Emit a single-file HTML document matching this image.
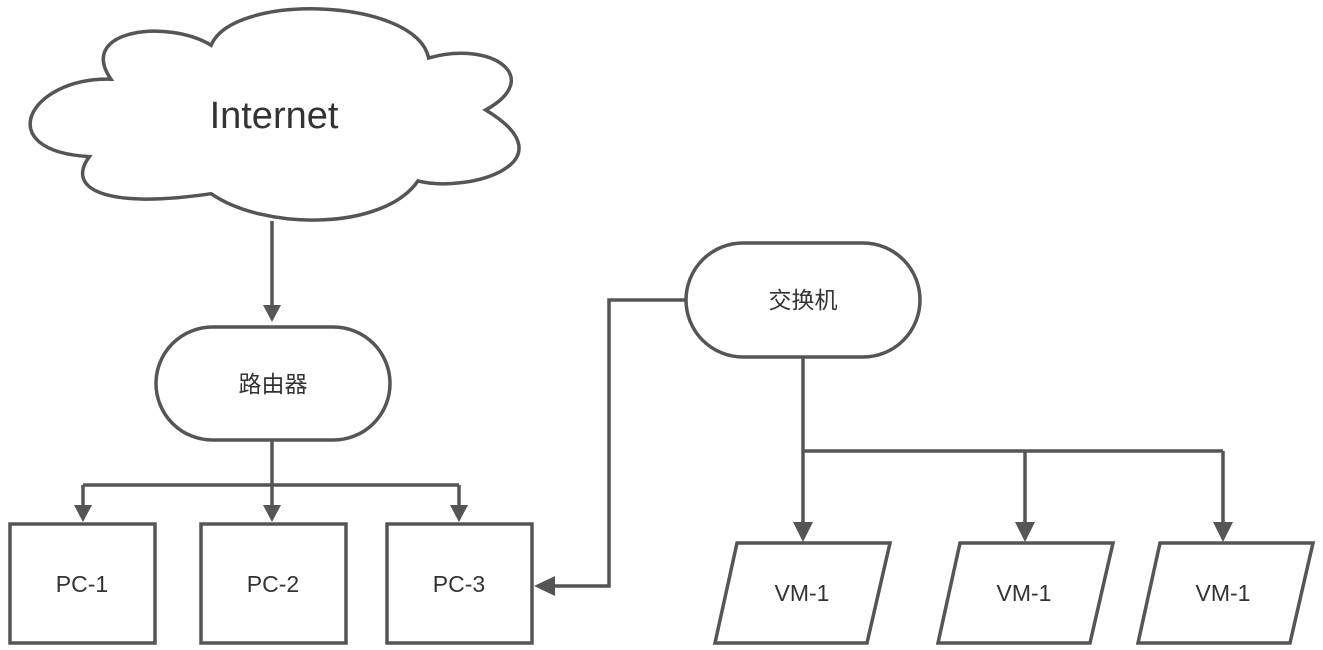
<!DOCTYPE html>
<html><head><meta charset="utf-8"><style>
html,body{margin:0;padding:0;background:#fff;}
svg{display:block;}
text{font-family:"Liberation Sans","Noto Sans CJK SC",sans-serif;fill:#333;text-anchor:middle;dominant-baseline:central;}
</style></head><body>
<svg width="1323" height="650" viewBox="0 0 1323 650" xmlns="http://www.w3.org/2000/svg">
<g fill="none" stroke="#555" stroke-width="3.5">
<path fill="#fff" vector-effect="non-scaling-stroke" transform="translate(28,5) scale(1.077,1.06) translate(-40,-12)" d="M117,82 C40,80 5,150 97,155 C75,185 110,205 210,190 C260,225 370,225 402,178 C450,190 545,160 465,111 C520,80 470,45 412,62 C400,5 230,0 210,50 C170,25 85,35 117,82 Z"/>
<rect x="156" y="327" width="234" height="113" rx="56.5" fill="#fff"/>
<rect x="686" y="243" width="234" height="114" rx="57" fill="#fff"/>
<rect x="10" y="524" width="145" height="119" fill="#fff"/>
<rect x="201" y="524" width="145" height="119" fill="#fff"/>
<rect x="387" y="524" width="145" height="119" fill="#fff"/>
<polygon points="737,543 890,543 867,643 715,643" fill="#fff"/>
<polygon points="960,543 1113,543 1090,643 938,643" fill="#fff"/>
<polygon points="1160,543 1313,543 1290,643 1138,643" fill="#fff"/>
<path d="M272,221 V306"/>
<path d="M272,440 V485 M83,485 H459 M83,485 V508 M272,485 V508 M459,485 V508"/>
<path d="M686,300 H609 V586 H548"/>
<path d="M803,357 V526 M803,451 H1223 M1025,451 V526 M1223,451 V526"/>
</g>
<g fill="#555">
<path d="M263,305 L281,305 L272,322 Z"/>
<path d="M74,505 L92,505 L83,522 Z"/>
<path d="M263,505 L281,505 L272,522 Z"/>
<path d="M450,505 L468,505 L459,522 Z"/>
<path d="M555,576 L555,596 L534,586 Z"/>
<path d="M793,522 L813,522 L803,542 Z"/>
<path d="M1015,522 L1035,522 L1025,542 Z"/>
<path d="M1213,522 L1233,522 L1223,542 Z"/>
</g>
<text x="274" y="116" font-size="38">Internet</text>
<text x="273" y="384" font-size="23">路由器</text>
<text x="803" y="300" font-size="23">交换机</text>
<text x="82" y="584" font-size="23">PC-1</text>
<text x="273" y="584" font-size="23">PC-2</text>
<text x="459" y="584" font-size="23">PC-3</text>
<text x="802" y="593" font-size="23">VM-1</text>
<text x="1024" y="593" font-size="23">VM-1</text>
<text x="1223" y="593" font-size="23">VM-1</text>
</svg>
</body></html>
